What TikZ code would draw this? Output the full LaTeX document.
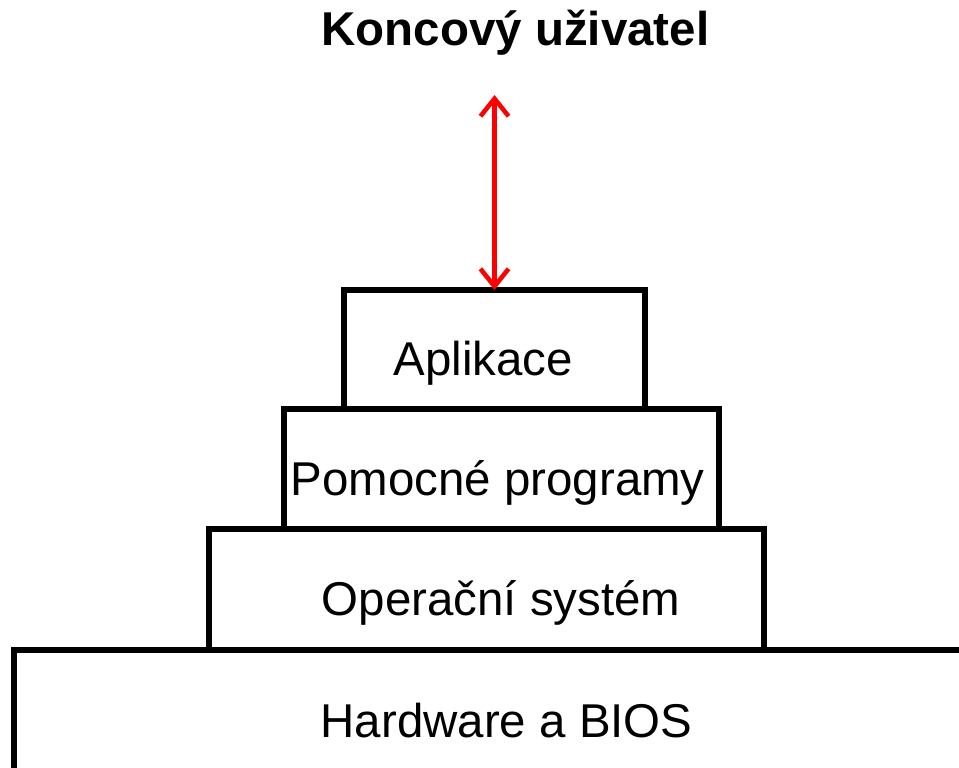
\documentclass[tikz,border=0pt]{standalone}
\usepackage{fontspec}
\setmainfont{Liberation Sans}
\usetikzlibrary{positioning}
\usetikzlibrary{arrows.meta}

\begin{document}
\begin{tikzpicture}[
  layer/.style={draw, rectangle, line width=1.45pt, outer sep=0pt, inner sep=0pt},
  lbl/.style={inner sep=0pt, anchor=base west, font=\fontsize{13.5}{16}\selectfont}]
\useasboundingbox (0,0) rectangle (9.59,-7.67);
\node[layer, minimum width=11cm, minimum height=2cm, anchor=north west](hw) at (0.14,-6.50){};
\node[layer, minimum width=5.55cm, minimum height=1.21cm, above right = 0cm and 1.95cm of hw.north west](os){};
\node[layer, minimum width=4.35cm, minimum height=1.20cm, above right = 0cm and 0.75cm of os.north west](pom){};
\node[layer, minimum width=3.01cm, minimum height=1.19cm, above right = 0cm and 0.60cm of pom.north west](app){};
\node[lbl](hwT) at (3.20,-7.37){Hardware a BIOS};
\node[lbl](osT) at (3.21,-6.15){Operační systém};
\node[lbl](pomT) at (2.90,-4.95){Pomocné programy};
\node[lbl](appT) at (3.93,-3.75){Aplikace};
\node[lbl, font=\fontsize{13.5}{16}\selectfont\bfseries](user) at (3.21,-0.45){Koncový uživatel};
\coordinate (top) at (4.945,-0.95);
\path (top) edge[red, line width=1.3pt, {Straight Barb[length=5pt,width=8pt]}-{Straight Barb[length=5pt,width=8pt]}] (app.north);
\end{tikzpicture}
\end{document}
